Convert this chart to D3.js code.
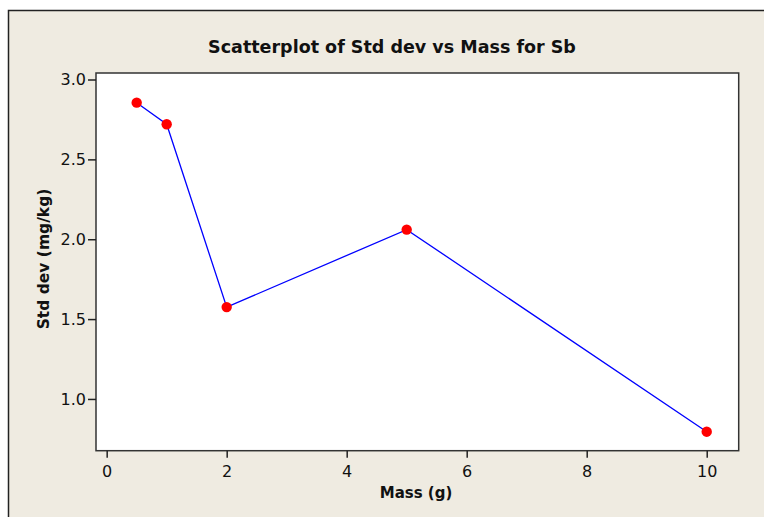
<!DOCTYPE html>
<html><head><meta charset="utf-8">
<script src="https://cdn.jsdelivr.net/npm/d3@7"></script>
<style>body{margin:0;background:#fff;}svg{display:block;}</style>
</head><body>
<svg id="c" width="764" height="517"></svg>
<script>
const massValues = [0.5, 1, 2, 5, 10];
const stdDevValues = [2.855, 2.72, 1.575, 2.06, 0.795];
const xTicks = [0, 2, 4, 6, 8, 10];
const yTicks = [1.0, 1.5, 2.0, 2.5, 3.0];
const titleText = "Scatterplot of Std dev vs Mass for Sb";
const xLabel = "Mass (g)";
const yLabel = "Std dev (mg/kg)";

const svg = d3.select("#c");
const font = "'DejaVu Sans', Verdana, sans-serif";
svg.append("rect").attr("x", 8.5).attr("y", 10.5).attr("width", 800).attr("height", 600)
  .attr("fill", "#efebe1").attr("stroke", "#222").attr("stroke-width", 1.5);

const L = 96, T = 73, R = 738.7, B = 450.7;
const x = d3.scaleLinear().domain([-0.178, 10.533]).range([L, R]);
const y = d3.scaleLinear().domain([0.676, 3.0407]).range([B, T]);

svg.append("rect").attr("x", L).attr("y", T).attr("width", R - L).attr("height", B - T)
  .attr("fill", "#fff").attr("stroke", "#333").attr("stroke-width", 1.5);

const xAxis = svg.append("g").attr("transform", `translate(0,${B})`)
  .call(d3.axisBottom(x).tickValues(xTicks).tickSize(7).tickSizeOuter(0).tickFormat(d3.format("d")));
const yAxis = svg.append("g").attr("transform", `translate(${L},0)`)
  .call(d3.axisLeft(y).tickValues(yTicks).tickSize(8).tickSizeOuter(0).tickFormat(d3.format(".1f")));
[xAxis, yAxis].forEach(a => {
  a.attr("font-size", null).attr("font-family", null);
  a.select(".domain").remove();
  a.selectAll(".tick line").attr("stroke", "#222").attr("stroke-width", 1.5);
  a.selectAll(".tick text").style("font-size", "16px").style("font-family", font).attr("fill", "#111");
});
xAxis.selectAll(".tick text").attr("dy", "1.05em");
yAxis.selectAll(".tick text").attr("x", -10);

const pts = massValues.map((m, i) => [m, stdDevValues[i]]);
svg.append("path").datum(pts)
  .attr("d", d3.line().x(d => x(d[0])).y(d => y(d[1])))
  .attr("fill", "none").attr("stroke", "#0000ff").attr("stroke-width", 1.3);
svg.selectAll("circle.pt").data(pts).enter().append("circle")
  .attr("cx", d => x(d[0])).attr("cy", d => y(d[1])).attr("r", 5.2).attr("fill", "#ff0000");

svg.append("text").attr("x", 392).attr("y", 53).attr("text-anchor", "middle")
  .attr("font-family", font).attr("font-weight", "bold").attr("font-size", 17.5).attr("fill", "#111").text(titleText);
svg.append("text").attr("x", 416).attr("y", 498).attr("text-anchor", "middle")
  .attr("font-family", font).attr("font-weight", "bold").attr("font-size", 15).attr("fill", "#111").text(xLabel);
svg.append("text").attr("transform", "translate(49,259) rotate(-90)").attr("text-anchor", "middle")
  .attr("font-family", font).attr("font-weight", "bold").attr("font-size", 15.5).attr("fill", "#111").text(yLabel);
</script>
</body></html>
